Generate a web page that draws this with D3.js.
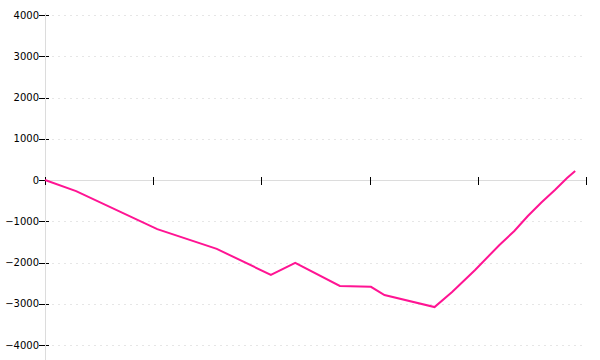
<!DOCTYPE html>
<html lang="en">
<head>
<meta charset="UTF-8" />
<title>Line chart</title>
<script src="https://d3js.org/d3.v7.min.js"></script>
<style>
  body { margin: 0; background: #fff; }
  svg { display: block; }
  .ylab { font-family: "DejaVu Sans", sans-serif; font-size: 10px; fill: #000; }
</style>
</head>
<body>
<div id="chart"></div>
<script>
// series (x in steps, y in value units)
const xs = [0, 2.3, 8.3, 12.7, 16.7, 18.5, 21.8, 24.1, 25.1, 28.8, 30.1, 31.8, 33.6, 34.7, 35.7, 36.7, 37.7, 38.6, 39.2];
const ys = [0, -270, -1190, -1670, -2300, -2010, -2570, -2590, -2790, -3080, -2715, -2180, -1575, -1236, -873, -545, -242, 48, 218];
const xTicks = [0, 8, 16, 24, 32, 40];
const yTicks = [-4000, -3000, -2000, -1000, 0, 1000, 2000, 3000, 4000];

const width = 600, height = 360;
const m = { left: 45, right: 586, top: 15, bottom: 345 };

const svg = d3.select("#chart").append("svg")
  .attr("width", width)
  .attr("height", height);

const x = d3.scaleLinear().domain([0, 40]).range([m.left, m.right]);
const y = d3.scaleLinear().domain([-4000, 4000]).range([m.bottom, m.top]);

// dashed grid
svg.append("g")
  .selectAll("line")
  .data(yTicks.filter(d => d !== 0))
  .join("line")
  .attr("x1", m.left + 7)
  .attr("x2", 584)
  .attr("y1", d => Math.round(y(d)) + 0.5)
  .attr("y2", d => Math.round(y(d)) + 0.5)
  .attr("stroke", "#e6e6e6")
  .attr("stroke-dasharray", "2,4")
  .attr("shape-rendering", "crispEdges");

// y ticks + labels
const yg = svg.append("g");
yg.selectAll("line")
  .data(yTicks)
  .join("line")
  .attr("x1", m.left - 6)
  .attr("x2", m.left + 4)
  .attr("y1", d => Math.round(y(d)) + 0.5)
  .attr("y2", d => Math.round(y(d)) + 0.5)
  .attr("stroke", "#000")
  .attr("shape-rendering", "crispEdges");
yg.selectAll("text")
  .data(yTicks)
  .join("text")
  .attr("class", "ylab")
  .attr("x", m.left - 6)
  .attr("y", d => y(d))
  .attr("dy", "0.35em")
  .attr("text-anchor", "end")
  .text(d => d3.format("")(d));

// x axis line
svg.append("line")
  .attr("x1", m.left).attr("x2", m.right)
  .attr("y1", Math.round(y(0)) + 0.5).attr("y2", Math.round(y(0)) + 0.5)
  .attr("stroke", "#dcdcdc")
  .attr("shape-rendering", "crispEdges");

// y axis line
svg.append("line")
  .attr("x1", m.left + 0.5).attr("x2", m.left + 0.5)
  .attr("y1", m.top - 2).attr("y2", height)
  .attr("stroke", "#dcdcdc")
  .attr("shape-rendering", "crispEdges");

// x ticks (no labels)
svg.append("g")
  .selectAll("line")
  .data(xTicks)
  .join("line")
  .attr("x1", d => Math.round(x(d)) + 0.5)
  .attr("x2", d => Math.round(x(d)) + 0.5)
  .attr("y1", y(0) - 3)
  .attr("y2", y(0) + 5)
  .attr("stroke", "#000")
  .attr("shape-rendering", "crispEdges");

// the series
const line = d3.line()
  .x((d, i) => x(xs[i]))
  .y(d => y(d));

svg.append("path")
  .datum(ys)
  .attr("fill", "none")
  .attr("stroke", "#ff1493")
  .attr("stroke-width", 2)
  .attr("d", line);
</script>
</body>
</html>
